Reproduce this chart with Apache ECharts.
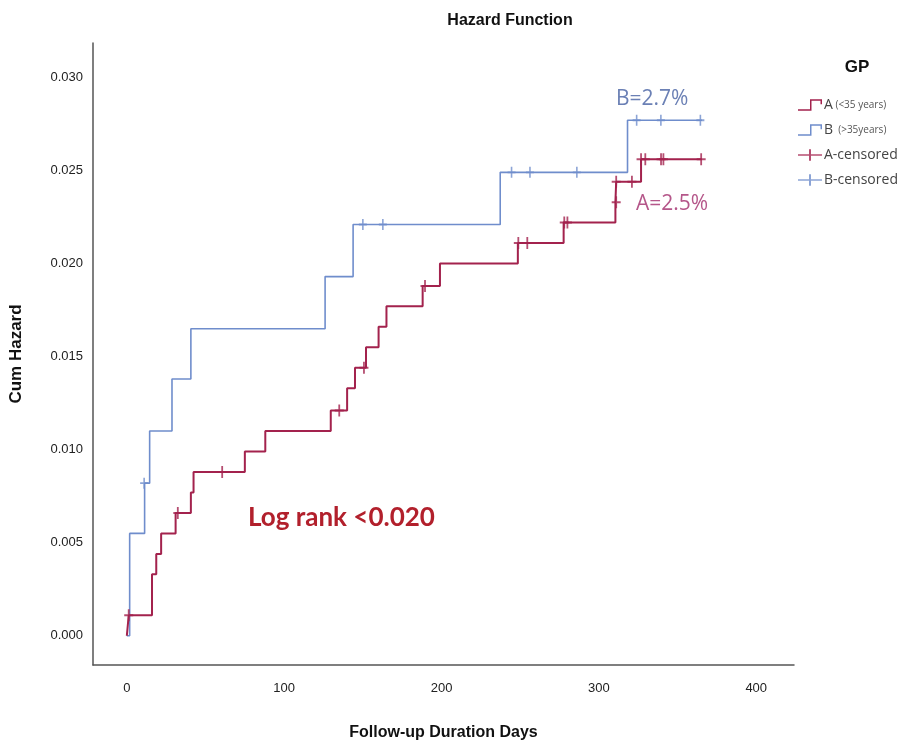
<!DOCTYPE html>
<html>
<head>
<meta charset="utf-8">
<script src="https://cdn.jsdelivr.net/npm/echarts@6/dist/echarts.min.js"></script>
<style>
html,body{margin:0;padding:0;background:#fff;}
#c{width:914px;height:746px;}
</style>
</head>
<body>
<div id="c"></div>
<script>
// ---- data (days, cumulative hazard) ----
const groupNames = ['A (<35 years)', 'B (>35years)', 'A-censored', 'B-censored'];
const xTicks = [0, 100, 200, 300, 400];
const yTicks = [0, 0.005, 0.010, 0.015, 0.020, 0.025, 0.030];

// step points: [day of event, cum hazard after event]
const stepA = [[0,0],[1.2,0.0011],[16,0.0033],[18.7,0.0044],[21.8,0.0055],[31,0.0066],[40.7,0.0077],[42.4,0.0088],[75,0.0099],[88,0.0110],[129.6,0.0121],[140,0.0133],[145,0.0144],[152,0.0155],[160,0.0166],[165,0.0177],[188,0.0188],[199,0.0200],[248.5,0.0211],[277.6,0.0222],[310.5,0.0233],[311,0.0244],[326.8,0.0256],[365.5,0.0256]];
const stepB = [[0,0],[1.8,0.0055],[11.3,0.0082],[14.5,0.0110],[28.7,0.0138],[40.7,0.0165],[126,0.0193],[143.8,0.0221],[237.3,0.0249],[318.2,0.0277],[365.5,0.0277]];

const censA = [[1.2,0.0011],[32.4,0.0066],[60.6,0.0088],[135,0.0121],[150.7,0.0144],[189.5,0.0188],[248.8,0.0211],[254.5,0.0211],[278,0.0222],[280,0.0222],[311,0.0233],[311,0.0244],[321,0.0244],[326.8,0.0256],[329.5,0.0256],[339.5,0.0256],[341,0.0256],[365,0.0256]];
const censB = [[11,0.0082],[150,0.0221],[162.7,0.0221],[244.5,0.0249],[256.2,0.0249],[286,0.0249],[324,0.0277],[339.4,0.0277],[364.5,0.0277]];

const colA = '#a3224d';
const colB = '#6f8dcc';

const stepIcon = 'path://M0,10 L12,10 L12,0 L24,0 L24,5 L22.5,5 L22.5,1.5 L13.5,1.5 L13.5,11.5 L0,11.5 Z';
const crossIcon = 'path://M0,5 L24,5 L24,6.6 L0,6.6 Z M11,0 L13,0 L13,11.5 L11,11.5 Z';
const plusSym = 'path://M0,5 L10,5 L10,7 L0,7 Z M4,0 L6,0 L6,12 L4,12 Z';

const chart = echarts.init(document.getElementById('c'), null, {renderer:'canvas'});
chart.setOption({
  animation: false,
  backgroundColor: '#fff',
  title: [
    {text: 'Hazard Function', left: 505, top: 8, textAlign: 'center',
     textStyle: {fontFamily: 'Liberation Sans', fontSize: 16, fontWeight: 'bold', color: '#111'}},
    {text: 'GP', left: 852, top: 54, textAlign: 'center',
     textStyle: {fontFamily: 'Liberation Sans', fontSize: 17, fontWeight: 'bold', color: '#111'}}
  ],
  grid: {left: 88, right: 120, top: 43, bottom: 77, containLabel: false},
  legend: {
    orient: 'vertical', left: 793, top: 93, itemGap: 11,
    itemWidth: 24, itemHeight: 11.5,
    data: [
      {name: groupNames[0], icon: stepIcon},
      {name: groupNames[1], icon: stepIcon},
      {name: groupNames[2], icon: crossIcon},
      {name: groupNames[3], icon: crossIcon}
    ],
    formatter: function (n) {
      if (n === groupNames[0]) return '{m|A}{s| (<35 years)}';
      if (n === groupNames[1]) return '{m|B}{s|  (>35years)}';
      return '{m|' + n + '}';
    },
    textStyle: {
      color: '#444', padding: [0,0,0,-3],
      rich: {
        m: {fontFamily: 'Open Sans', fontSize: 14, color: '#444'},
        s: {fontFamily: 'Open Sans', fontSize: 10, color: '#555'}
      }
    }
  },
  xAxis: {
    type: 'value', min: -21.5, max: 424,
    name: 'Follow-up Duration Days', nameLocation: 'middle', nameGap: 60,
    nameTextStyle: {fontFamily: 'Liberation Sans', fontSize: 16, fontWeight: 'bold', color: '#111'},
    axisLine: {show: true, onZero: false, lineStyle: {color: '#555', width: 1.5}},
    axisTick: {show: false},
    splitLine: {show: false},
    axisLabel: {customValues: xTicks, margin: 17, fontFamily: 'Liberation Sans', fontSize: 13, color: '#222'}
  },
  yAxis: {
    type: 'value', min: -0.00157, max: 0.03185,
    name: 'Cum Hazard', nameLocation: 'middle', nameGap: 68, nameRotate: 90,
    nameTextStyle: {fontFamily: 'Liberation Sans', fontSize: 17, fontWeight: 'bold', color: '#111'},
    axisLine: {show: true, onZero: false, lineStyle: {color: '#555', width: 1.5}},
    axisTick: {show: false},
    splitLine: {show: false},
    axisLabel: {customValues: yTicks, margin: 10, fontFamily: 'Liberation Sans', fontSize: 13, color: '#222',
      formatter: function (v) { return v.toFixed(3); }}
  },
  series: [
    {name: groupNames[1], type: 'line', step: 'end', data: stepB, symbol: 'none',
     lineStyle: {color: colB, width: 1.6}, itemStyle: {color: colB}, z: 2},
    {name: groupNames[0], type: 'line', step: 'end', data: stepA, symbol: 'none',
     lineStyle: {color: colA, width: 2}, itemStyle: {color: colA}, z: 3},
    {name: groupNames[2], type: 'scatter', data: censA, symbol: plusSym, symbolSize: [9, 12],
     itemStyle: {color: colA}, z: 5},
    {name: groupNames[3], type: 'scatter', data: censB, symbol: plusSym, symbolSize: [8, 11],
     itemStyle: {color: colB}, z: 4}
  ],
  graphic: [
    {type: 'text', left: 616, top: 89, style: {text: 'B=2.7%', fontFamily: 'Open Sans', fontSize: 21, fill: '#6b80b5'}},
    {type: 'text', left: 636, top: 194, style: {text: 'A=2.5%', fontFamily: 'Open Sans', fontSize: 21, fill: '#b5578a'}},
    {type: 'text', left: 248, top: 505, style: {text: 'Log rank <0.020', fontFamily: 'Lato', fontSize: 26, fontWeight: 'bold', fill: '#b2202c'}}
  ]
});
</script>
</body>
</html>
